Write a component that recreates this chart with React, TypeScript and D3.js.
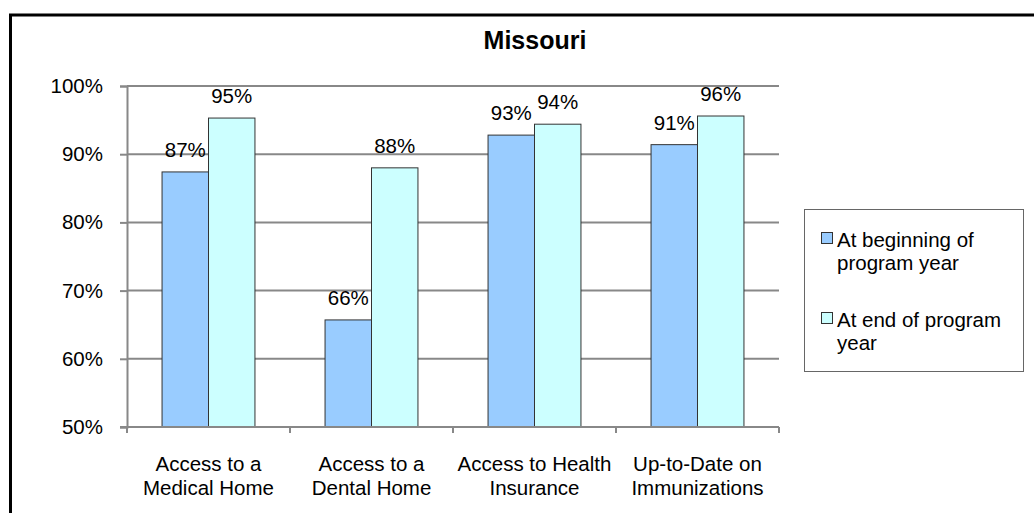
import { useEffect, useRef } from "react";
import * as d3 from "d3";

const categories = [
  ["Access to a", "Medical Home"],
  ["Access to a", "Dental Home"],
  ["Access to Health", "Insurance"],
  ["Up-to-Date on", "Immunizations"],
];
const seriesNames = ["At beginning of program year", "At end of program year"];
const beginning = [87.4, 65.7, 92.8, 91.4];
const end = [95.3, 88.0, 94.4, 95.6];
const yTicks = [50, 60, 70, 80, 90, 100];
const legendLines = [
  ["At beginning of", "program year"],
  ["At end of program", "year"],
];

const colors = ["#99ccff", "#ccffff"];
const font = "'Liberation Sans', Arial, sans-serif";
const fs = 20.5;

function App() {
  const svgRef = useRef<SVGSVGElement | null>(null);

  useEffect(() => {
    const svg = d3.select(svgRef.current!);
    svg.selectAll("*").remove();

    const width = 1034;
    const height = 513;
    const left = 127, right = 779, top = 86, bottom = 427;

    svg.attr("width", width).attr("height", height).style("background", "#fff");

    // outer chart frame (runs past the right and bottom edges)
    svg.append("rect")
      .attr("x", 10.5).attr("y", 15)
      .attr("width", 1200).attr("height", 700)
      .attr("fill", "none").attr("stroke", "#000").attr("stroke-width", 3);

    svg.append("text")
      .attr("x", 535).attr("y", 49)
      .attr("text-anchor", "middle")
      .attr("font-family", font).attr("font-size", 25).attr("font-weight", "bold")
      .text("Missouri");

    const keys = categories.map(c => c.join(" "));
    const x0 = d3.scaleBand<string>().domain(keys).range([left, right])
      .paddingInner(0.43).paddingOuter(0.215);
    const x1 = d3.scaleBand<number>().domain([0, 1]).range([0, x0.bandwidth()]);
    const y = d3.scaleLinear().domain([50, 100]).range([bottom, top]);

    // gridlines
    svg.append("g").selectAll("line")
      .data(yTicks.filter(t => t > 50))
      .enter().append("line")
      .attr("x1", left).attr("x2", right)
      .attr("y1", d => y(d)).attr("y2", d => y(d))
      .attr("stroke", "#888").attr("stroke-width", 2);

    // y axis
    const yAxis = svg.append("g").attr("transform", `translate(${left},0)`)
      .call(d3.axisLeft(y).tickValues(yTicks).tickSize(7).tickPadding(17).tickFormat(d => `${d}%`));
    yAxis.select(".domain").attr("stroke", "#888").attr("stroke-width", 2);
    yAxis.selectAll(".tick line").attr("stroke", "#888").attr("stroke-width", 2);
    yAxis.selectAll(".tick text").attr("font-family", font).attr("font-size", fs).attr("fill", "#000");

    // bars
    const data = keys.map((k, i) => ({ key: k, values: [beginning[i], end[i]] }));
    const groups = svg.append("g").selectAll("g")
      .data(data).enter().append("g")
      .attr("transform", d => `translate(${x0(d.key)},0)`);
    groups.selectAll("rect")
      .data(d => d.values)
      .enter().append("rect")
      .attr("x", (_, j) => x1(j)!)
      .attr("y", v => y(v))
      .attr("width", x1.bandwidth())
      .attr("height", v => bottom - y(v))
      .attr("fill", (_, j) => colors[j])
      .attr("stroke", "#333").attr("stroke-width", 1);
    groups.selectAll("text")
      .data(d => d.values)
      .enter().append("text")
      .attr("x", (_, j) => x1(j)! + x1.bandwidth() / 2)
      .attr("y", v => y(v) - 15)
      .attr("text-anchor", "middle")
      .attr("font-family", font).attr("font-size", fs)
      .text(v => `${Math.round(v)}%`);

    // x axis
    svg.append("line")
      .attr("x1", left - 7).attr("x2", right)
      .attr("y1", bottom).attr("y2", bottom)
      .attr("stroke", "#888").attr("stroke-width", 2);
    const step = x0.step();
    svg.append("g").selectAll("line")
      .data(d3.range(keys.length + 1))
      .enter().append("line")
      .attr("x1", i => left + i * step).attr("x2", i => left + i * step)
      .attr("y1", bottom).attr("y2", bottom + 6)
      .attr("stroke", "#888").attr("stroke-width", 2);
    const catText = svg.append("g").selectAll("text")
      .data(categories).enter().append("text")
      .attr("text-anchor", "middle")
      .attr("font-family", font).attr("font-size", fs);
    catText.each(function (lines, i) {
      const cx = x0(keys[i])! + x0.bandwidth() / 2;
      d3.select(this).selectAll("tspan")
        .data(lines).enter().append("tspan")
        .attr("x", cx)
        .attr("y", (_, k) => 471 + k * 24)
        .text(l => l);
    });

    // legend
    const lg = svg.append("g");
    lg.append("rect")
      .attr("x", 804.5).attr("y", 209.5).attr("width", 219).attr("height", 162)
      .attr("fill", "#fff").attr("stroke", "#666").attr("stroke-width", 1);
    seriesNames.forEach((name, i) => {
      const y0 = 247 + i * 80;
      lg.append("rect")
        .attr("x", 821.5).attr("y", y0 - 14.5).attr("width", 11).attr("height", 11)
        .attr("fill", colors[i]).attr("stroke", "#333").attr("stroke-width", 1)
        .append("title").text(name);
      const t = lg.append("text").attr("font-family", font).attr("font-size", fs);
      t.selectAll("tspan").data(legendLines[i]).enter().append("tspan")
        .attr("x", 837).attr("y", (_, k) => y0 + k * 23)
        .text(l => l);
    });
  }, []);

  return (
    <div style={{ position: "absolute", left: 0, top: 0 }}>
      <svg ref={svgRef}></svg>
    </div>
  );
}

export default App;
